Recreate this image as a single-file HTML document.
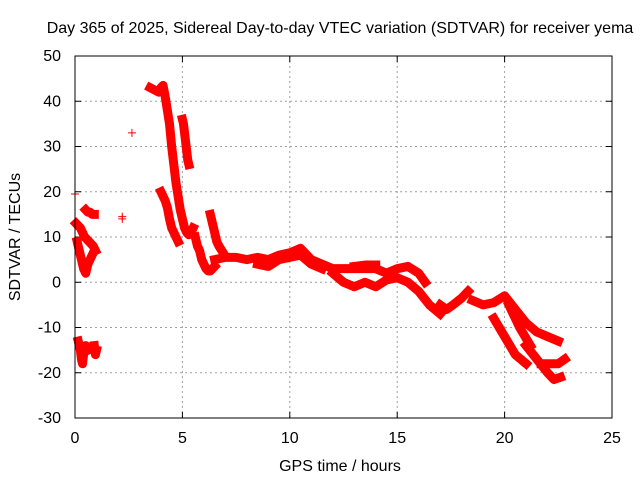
<!DOCTYPE html>
<html><head><meta charset="utf-8"><style>
body{margin:0;background:#fff}
svg text{font-family:"Liberation Sans",sans-serif;font-size:16px;fill:#000}
</style></head><body>
<svg id="c" width="640" height="480" xmlns="http://www.w3.org/2000/svg">
<rect width="640" height="480" fill="#fff"/>
<text x="340" y="33" text-anchor="middle">Day 365 of 2025, Sidereal Day-to-day VTEC variation (SDTVAR) for receiver yema</text>
<text x="340" y="471" text-anchor="middle">GPS time / hours</text>
<text transform="translate(20,237) rotate(-90)" text-anchor="middle">SDTVAR / TECUs</text>
<g id="grid"></g><g id="marks"></g>
<rect x="75" y="56" width="537" height="362" fill="none" stroke="#000"/>
</svg>
<script>
const xTicks=[0,5,10,15,20,25];
const yTicks=[-30,-20,-10,0,10,20,30,40,50];
const tA=[[0.05,13],[0.15,12.5],[0.25,12],[0.35,11],[0.45,10],[0.55,9.5],[0.65,9],[0.75,8.5],[0.85,8],[0.95,7]];
const tB=[[0.1,9],[0.2,7],[0.3,5],[0.4,3],[0.5,2],[0.6,4],[0.7,5],[0.8,6]];
const tC=[[0.5,16],[0.6,15.5],[0.7,15.5],[0.8,15],[0.9,15]];
const tNeg=[[0.15,-13],[0.25,-15],[0.3,-17],[0.35,-18],[0.4,-16],[0.5,-14],[0.6,-15]];
const tNeg2=[[0.9,-14],[0.95,-16],[1.0,-15]];
const tIso=[[2.2,14],[2.2,14.5],[2.65,33],[0,19.5]];
const tD=[[3.5,43],[3.7,42.5],[3.9,42],[4.0,43],[4.1,43.5],[4.2,41],[4.3,38],[4.4,35],[4.5,30],[4.6,26],[4.7,22],[4.8,19],[4.9,16],[5.0,14],[5.1,12],[5.2,11],[5.3,10.5],[5.4,11],[5.5,12]];
const tE=[[5.0,36],[5.05,35],[5.1,33],[5.15,31],[5.2,29],[5.25,27],[5.3,26]];
const tF=[[4.0,20],[4.1,19],[4.2,18],[4.3,16.5],[4.4,14],[4.5,12],[4.6,11],[4.7,10],[4.8,9]];
const tG=[[5.6,10],[5.7,8],[5.8,7],[5.9,5],[6.0,4],[6.1,3],[6.2,2.5],[6.3,2.5],[6.4,3],[6.5,3.5]];
const tH=[[6.3,15],[6.4,13],[6.5,11],[6.6,9],[6.7,8],[6.9,6.5]];
const tM=[[6.5,5],[7,5.5],[7.5,5.5],[8,5],[8.5,5.5],[9,5],[9.5,6],[10,6.5],[10.5,7.5],[11,5],[11.5,4],[12,3],[12.5,3],[13,3],[13.5,3],[14,3],[14.5,2],[15,3],[15.5,3.5],[16,2],[16.3,0]];
const tM2=[[8.5,4],[9,3.5],[9.5,5],[10,5.5],[10.5,6],[11,4],[11.5,3]];
const tL=[[12,2],[12.5,0],[13,-1],[13.5,0],[14,-1],[14.5,0.5],[15,1],[15.5,0],[16,-2],[16.5,-5],[17,-7]];
const tU=[[13,3.5],[13.5,3.8],[14,3.8]];
const tP=[[17,-5],[17.3,-6],[17.6,-5],[18,-3.5],[18.3,-2]];
const tQ=[[18.5,-4],[19,-5],[19.5,-4.5],[20,-3],[20.5,-6],[21,-9],[21.5,-11],[22,-12],[22.5,-13]];
const tR=[[19.5,-8],[20,-12],[20.5,-16],[21,-18]];
const tS=[[20.2,-5],[20.7,-10],[21.2,-14]];
const tT=[[21,-14],[21.5,-17],[22,-20],[22.3,-21.5],[22.6,-21]];
const tV=[[21.7,-18],[22.5,-18],[22.8,-17]];
const series=[tA,tB,tC,tNeg,tNeg2,tD,tE,tF,tG,tH,tM,tM2,tL,tU,tP,tQ,tR,tS,tT,tV];
const NS="http://www.w3.org/2000/svg";
const X=h=>75+h*537/25, Y=v=>56+(50-v)*362/80;
const grid=document.getElementById('grid'), marks=document.getElementById('marks');
function mk(t,a,p){const e=document.createElementNS(NS,t);for(const k in a)e.setAttribute(k,a[k]);p.appendChild(e);return e;}
xTicks.forEach(t=>{const x=X(t);
 if(t>0&&t<25){const g=mk('line',{x1:x,y1:56,x2:x,y2:418,stroke:'#a0a0a0','stroke-dasharray':'2,3'},grid);
 
 }
 mk('line',{x1:x,y1:418,x2:x,y2:412,stroke:'#000'},grid);mk('line',{x1:x,y1:56,x2:x,y2:62,stroke:'#000'},grid);
 const l=mk('text',{x:x,y:443,'text-anchor':'middle'},grid);l.textContent=t;
 
 });
yTicks.forEach(t=>{const y=Y(t);
 if(t>-30&&t<50){const g=mk('line',{x1:75,y1:y,x2:612,y2:y,stroke:'#a0a0a0','stroke-dasharray':'2,3'},grid);
 
 }
 mk('line',{x1:75,y1:y,x2:81,y2:y,stroke:'#000'},grid);mk('line',{x1:612,y1:y,x2:606,y2:y,stroke:'#000'},grid);
 const l=mk('text',{x:61,y:y+5,'text-anchor':'end'},grid);l.textContent=t;
 
 });
function plus(h,v){const x=X(h),y=Y(v);
 const p=mk('path',{d:`M${x-4},${y}h8M${x},${y-4}v8`,stroke:'#f00','stroke-width':1},marks);
 
 }
series.forEach(s=>{
 const pl=mk('polyline',{points:s.map(p=>X(p[0])+','+Y(p[1])).join(' '),fill:'none',stroke:'#f00','stroke-width':9,'stroke-linejoin':'round','stroke-linecap':'square'},marks);
 
 
 s.forEach(p=>plus(p[0],p[1]));});
tIso.forEach(p=>plus(p[0],p[1]));
</script>
</body></html>
